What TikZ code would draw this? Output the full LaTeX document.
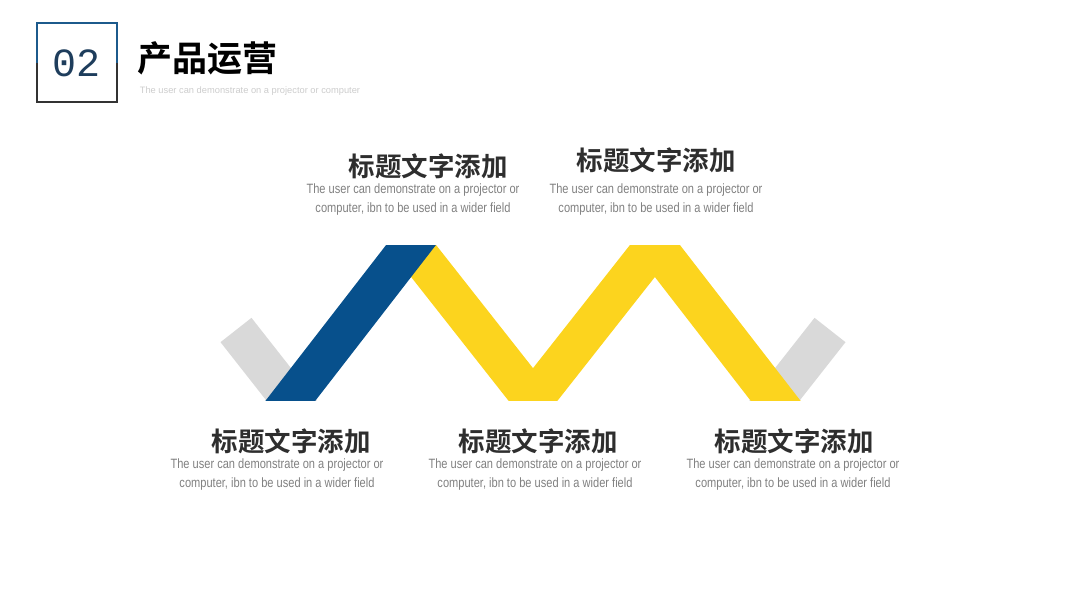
\documentclass[tikz,border=0pt]{standalone}
\usepackage{fontspec}
\setmainfont{Liberation Sans}
\newfontfamily\cjk{Noto Sans CJK SC}[BoldFont={Noto Sans CJK SC Bold}]
\newfontfamily\narrowfont{Liberation Sans}[FakeStretch=0.82]
\newfontfamily\digitfont{Liberation Mono}
\usetikzlibrary{calc}
\definecolor{bandblue}{HTML}{07508C}
\definecolor{bandyellow}{HTML}{FCD41E}
\definecolor{bandgray}{HTML}{D9D9D9}
\definecolor{boxblue}{HTML}{1C5A8C}
\definecolor{boxdark}{HTML}{333333}
\definecolor{numblue}{HTML}{1E3D5C}
\definecolor{headgray}{HTML}{2E2E2E}
\definecolor{bodygray}{HTML}{808080}
\begin{document}
\begin{tikzpicture}[x=1pt, y=-1pt,
    band/.style={line width=39.4pt, line join=miter},
    head/.style={font=\cjk\bfseries\fontsize{26.5}{30}\selectfont, text=headgray, inner sep=0pt},
    body/.style={font=\narrowfont\fontsize{13.5}{19}\selectfont, text=bodygray, align=center, inner sep=0pt}]
\useasboundingbox (0,0) rectangle (1067,600);

% header
\draw[line width=2.2pt, boxblue] (37,63) |- (117,23) -- (117,63);
\draw[line width=2.2pt, boxdark] (37,63) |- (117,102) -- (117,63);
\node[font=\digitfont\fontsize{40}{40}\selectfont, text=numblue] (num) at (77,63) {02};
\node[font=\cjk\bfseries\fontsize{35}{38}\selectfont, inner sep=0pt] (title) at (207.5,58.5) {产品运营};
\node[font=\fontsize{9.3}{10}\selectfont, text=black!20, inner sep=0pt] (sub) at (250,91) {The user can demonstrate on a projector or computer};

% zigzag
\coordinate (b1) at (291,400);
\coordinate (t1) at (411,245);
\coordinate (b2) at (533,400);
\coordinate (t2) at (655,245);
\coordinate (b3) at (775,400);
\coordinate (g1) at (236,330);
\coordinate (g2) at (830,330);
\begin{scope}
\clip (0,245) rectangle (1067,400);
\draw[band, bandgray] ($(b1)!-.55!(g1)$) -- (g1);
\draw[band, bandgray] ($(b3)!-.55!(g2)$) -- (g2);
\draw[band, bandyellow] ($(t1)!-.25!(b2)$) -- (t1) -- (b2) -- (t2) -- (b3) -- ($(b3)!-.25!(t2)$);
\draw[band, bandblue] ($(b1)!-.25!(t1)$) -- ($(t1)!-.25!(b1)$);
\end{scope}

% labels
\node[head] (h1) at (428,166.5) {标题文字添加};
\node[body] (d1) at (413,199.5) {The user can demonstrate on a projector or\\computer, ibn to be used in a wider field};
\node[head] (h2) at (656,160.5) {标题文字添加};
\node[body] (d2) at (656,200) {The user can demonstrate on a projector or\\computer, ibn to be used in a wider field};
\node[head] (h3) at (291,441) {标题文字添加};
\node[body] (d3) at (277,474.5) {The user can demonstrate on a projector or\\computer, ibn to be used in a wider field};
\node[head] (h4) at (538,441) {标题文字添加};
\node[body] (d4) at (535,474.5) {The user can demonstrate on a projector or\\computer, ibn to be used in a wider field};
\node[head] (h5) at (794,441) {标题文字添加};
\node[body] (d5) at (793,474.5) {The user can demonstrate on a projector or\\computer, ibn to be used in a wider field};
\end{tikzpicture}
\end{document}
